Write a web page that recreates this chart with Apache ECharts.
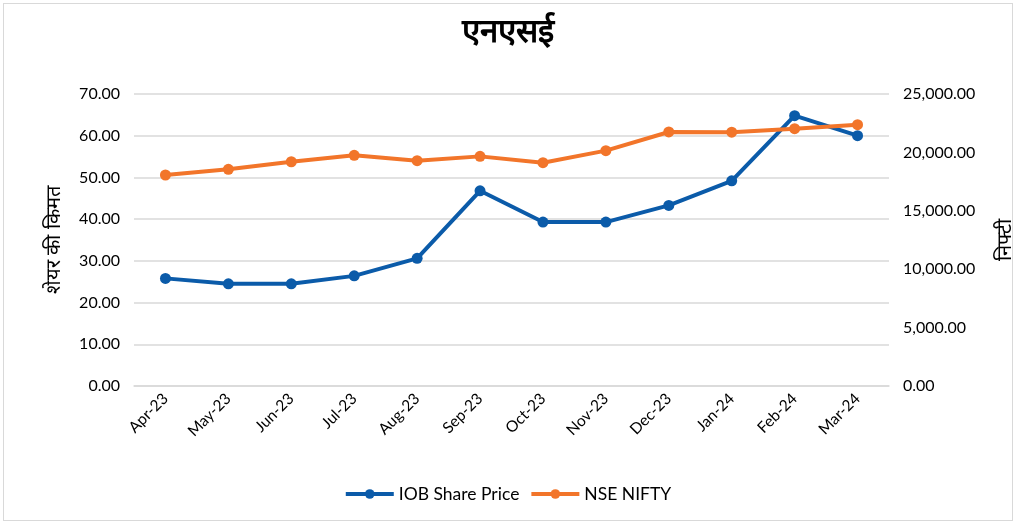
<!DOCTYPE html>
<html>
<head>
<meta charset="utf-8">
<script src="https://cdn.jsdelivr.net/npm/echarts@6/dist/echarts.min.js"></script>
<style>
  html, body { margin: 0; padding: 0; background: #fff; }
  #chart { width: 1015px; height: 523px; }
  #frame { position: absolute; left: 3px; top: 3px; width: 1010px; height: 518px; border: 1px solid #d9d9d9; box-sizing: border-box; pointer-events: none; }
</style>
</head>
<body>
<div id="chart"></div>
<div id="frame"></div>
<script>
// months on the x axis
const months = ['Apr-23', 'May-23', 'Jun-23', 'Jul-23', 'Aug-23', 'Sep-23',
                'Oct-23', 'Nov-23', 'Dec-23', 'Jan-24', 'Feb-24', 'Mar-24'];
// left axis: share price
const iobPrice = [25.8, 24.5, 24.5, 26.4, 30.6, 46.8, 39.3, 39.3, 43.3, 49.2, 64.8, 60.0];
// right axis: index level
const nifty = [18065, 18550, 19200, 19750, 19290, 19660, 19120, 20150, 21750, 21730, 22030, 22370];

const FONT = 'Lato, "Open Sans", sans-serif';
const fmt = v => v.toLocaleString('en-US', { minimumFractionDigits: 2, maximumFractionDigits: 2 });

const chart = echarts.init(document.getElementById('chart'));
chart.setOption({
    animation: false,
    textStyle: { fontFamily: FONT },
    title: {
        text: 'एनएसई',
        left: 'center',
        top: 10,
        textStyle: { fontSize: 33, fontWeight: 'bold', color: '#000' }
    },
    legend: {
        bottom: 15,
        left: 'center',
        itemWidth: 48,
        itemHeight: 12,
        itemGap: 10,
        textStyle: { fontSize: 17.5, color: '#000' },
        lineStyle: { width: 4 },
        data: ['IOB Share Price', 'NSE NIFTY']
    },
    grid: { left: 134, right: 126, top: 94, bottom: 137, outerBoundsMode: 'none' },
    xAxis: {
        type: 'category',
        data: months,
        boundaryGap: true,
        axisLine: { lineStyle: { color: '#d9d9d9', width: 1.5 } },
        axisTick: { show: false },
        axisLabel: { rotate: 45, fontSize: 15.5, color: '#000', margin: 10 }
    },
    yAxis: [{
        type: 'value',
        min: 0, max: 70, interval: 10,
        name: 'शेयर की किमत',
        nameLocation: 'middle',
        nameGap: 70,
        nameTextStyle: { fontSize: 20, color: '#000' },
        axisLabel: { fontSize: 16, color: '#000', formatter: fmt, margin: 14 },
        splitLine: { lineStyle: { color: '#d9d9d9', width: 1.5 } }
    }, {
        type: 'value',
        min: 0, max: 25000, interval: 5000,
        position: 'right',
        name: 'निफ्टी',
        nameLocation: 'middle',
        nameGap: 106,
        nameTextStyle: { fontSize: 20, color: '#000' },
        axisLabel: { fontSize: 16, color: '#000', formatter: fmt, margin: 14 },
        splitLine: { show: false }
    }],
    series: [{
        name: 'IOB Share Price',
        type: 'line',
        data: iobPrice,
        yAxisIndex: 0,
        symbol: 'circle',
        symbolSize: 11,
        itemStyle: { color: '#0b5ba9' },
        lineStyle: { width: 4, color: '#0b5ba9' }
    }, {
        name: 'NSE NIFTY',
        type: 'line',
        data: nifty,
        yAxisIndex: 1,
        symbol: 'circle',
        symbolSize: 11,
        itemStyle: { color: '#f2752a' },
        lineStyle: { width: 4, color: '#f2752a' }
    }]
});
</script>
</body>
</html>
